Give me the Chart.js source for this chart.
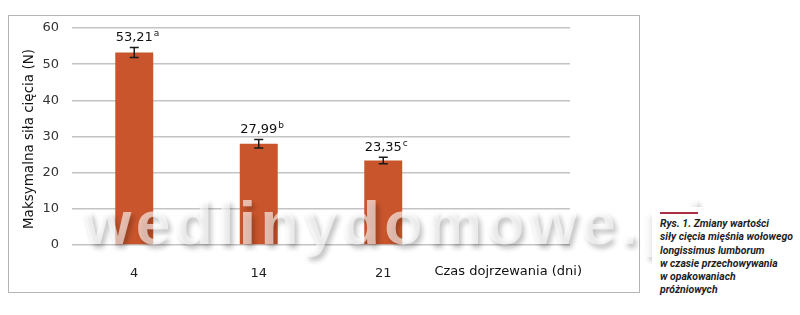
<!DOCTYPE html>
<html>
<head>
<meta charset="utf-8">
<script src="https://cdn.jsdelivr.net/npm/chart.js@4"></script>
<style>
  body { margin: 0; background: #fff; }
  #wrap { position: relative; width: 800px; height: 315px; overflow: hidden; }
  #frame { position: absolute; left: 8px; top: 15px; width: 630px; height: 276px; border: 1.5px solid #b4b4b4; }
  canvas { position: absolute; left: 0; top: 0; }
  #mark {
    position: absolute; left: 83px; top: 192px; font: bold 62px "Liberation Sans", Arial, sans-serif;
    line-height: 62px; color: rgba(255, 255, 255, 0.62); letter-spacing: 4.5px; white-space: nowrap;
    text-shadow: 3px 4px 5px rgba(0, 0, 0, 0.24); pointer-events: none;
  }
  #capBox { position: absolute; left: 652px; top: 207px; width: 148px; height: 108px; background: #fff; }
  #capLine { position: absolute; left: 660px; top: 212px; width: 38px; height: 2px; background: #a83245; }
  #caption {
    position: absolute; left: 660px; top: 217px; font: italic bold 11px "Liberation Sans Narrow", "Roboto", sans-serif;
    line-height: 13.3px; color: #1e1e1e; white-space: nowrap;
    transform: scaleX(0.95); transform-origin: left top;
  }
</style>
</head>
<body>
<div id="wrap">
  <div id="frame"></div>
  <canvas id="chart" width="800" height="315"></canvas>
  <div id="mark">wedlinydomowe.pl</div>
  <div id="capBox"></div>
  <div id="capLine"></div>
  <div id="caption">Rys. 1. Zmiany wartości<br>siły cięcia mięśnia wołowego<br>longissimus lumborum<br>w czasie przechowywania<br>w opakowaniach<br>próżniowych</div>
</div>
<script>
// data
const days = ["4", "14", "21", ""];
const shearForce = [53.21, 27.99, 23.35, null];
const errors = [1.4, 1.2, 0.9, null];
const groups = ["a", "b", "c", ""];
const yTicks = [0, 10, 20, 30, 40, 50, 60];

const font = '"DejaVu Sans", Verdana, sans-serif';

// error bars + value labels
const errorBars = {
  id: "errorBars",
  afterDatasetsDraw(chart) {
    const ctx = chart.ctx;
    const y = chart.scales.y;
    const meta = chart.getDatasetMeta(0);
    ctx.save();
    meta.data.forEach((bar, i) => {
      if (shearForce[i] == null) return;
      const top = y.getPixelForValue(shearForce[i] + errors[i]);
      const bot = y.getPixelForValue(shearForce[i] - errors[i]);
      ctx.strokeStyle = "#1a1a1a";
      ctx.lineWidth = 1.5;
      ctx.beginPath();
      ctx.moveTo(bar.x, top); ctx.lineTo(bar.x, bot);
      ctx.moveTo(bar.x - 4.5, top); ctx.lineTo(bar.x + 4.5, top);
      ctx.moveTo(bar.x - 4.5, bot); ctx.lineTo(bar.x + 4.5, bot);
      ctx.stroke();

      const txt = shearForce[i].toFixed(2).replace(".", ",");
      ctx.fillStyle = "#111";
      ctx.font = "13px " + font;
      ctx.textAlign = "center";
      ctx.textBaseline = "alphabetic";
      const w = ctx.measureText(txt).width;
      ctx.fillText(txt, bar.x, top - 6);
      ctx.font = "9px " + font;
      ctx.textAlign = "left";
      ctx.fillText(groups[i], bar.x + w / 2 + 1, top - 11);
    });
    ctx.restore();
  }
};

// axis titles at the places they sit in the figure
const axisTitles = {
  id: "axisTitles",
  afterDraw(chart) {
    const ctx = chart.ctx;
    const a = chart.chartArea;
    ctx.save();
    ctx.fillStyle = "#111";
    ctx.font = "13px " + font;
    ctx.textBaseline = "middle";
    ctx.textAlign = "right";
    ctx.fillText("Czas dojrzewania (dni)", a.right + 12, a.bottom + 27);
    ctx.font = "13.5px " + font;
    ctx.translate(29, a.top + 111);
    ctx.rotate(-Math.PI / 2);
    ctx.textAlign = "center";
    ctx.fillText("Maksymalna siła cięcia (N)", 0, 0);
    ctx.restore();
  }
};

new Chart(document.getElementById("chart"), {
  type: "bar",
  data: {
    labels: days,
    datasets: [{
      data: shearForce,
      backgroundColor: "#c9552c",
      borderWidth: 0,
      categoryPercentage: 1,
      barPercentage: 0.305
    }]
  },
  options: {
    responsive: false,
    animation: false,
    layout: { padding: { top: 28, right: 230, left: 0, bottom: 0 } },
    plugins: { legend: { display: false }, tooltip: { enabled: false } },
    scales: {
      x: {
        afterFit: s => { s.height = 70; },
        grid: { display: false },
        border: { display: false },
        ticks: { color: "#222", font: { family: font, size: 13 }, padding: 13, maxRotation: 0 }
      },
      y: {
        min: 0,
        max: 60,
        afterFit: s => { s.width = 72; },
        afterBuildTicks: s => { s.ticks = yTicks.map(v => ({ value: v })); },
        grid: { color: "#c4c4c4", lineWidth: 1.5, drawTicks: false },
        border: { display: false },
        ticks: { color: "#333", font: { family: font, size: 13 }, padding: 13 }
      }
    }
  },
  plugins: [errorBars, axisTitles]
});
</script>
</body>
</html>
